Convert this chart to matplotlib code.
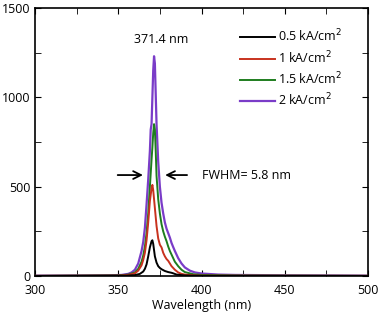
import matplotlib
matplotlib.use("Agg")
import matplotlib.pyplot as plt
from matplotlib.ticker import MultipleLocator

plt.rcParams['font.family'] = ['Open Sans', 'DejaVu Sans']

wl_purple = [300, 330, 345, 352, 356, 358, 360, 362, 364, 365, 366, 367, 368, 369, 369.5, 370, 370.5, 371, 371.5, 372, 372.5, 373, 374, 375, 376, 377, 378, 379, 380, 381, 382, 383, 384, 386, 388, 390, 393, 396, 400, 410, 420, 450, 480, 500]
int_purple = [2, 3, 4, 6, 12, 20, 35, 70, 140, 190, 270, 400, 540, 700, 820, 850, 1000, 1150, 1230, 1190, 1020, 850, 640, 500, 410, 350, 300, 265, 240, 215, 185, 162, 140, 100, 70, 48, 30, 20, 14, 8, 6, 4, 3, 2]

wl_green = [300, 350, 356, 360, 362, 364, 365, 366, 367, 368, 369, 370, 370.5, 371, 371.5, 372, 372.5, 373, 374, 375, 376, 377, 378, 379, 380, 381, 382, 384, 386, 388, 390, 395, 400, 420, 500]
int_green = [1, 3, 8, 20, 40, 80, 115, 165, 240, 350, 500, 650, 720, 800, 850, 820, 700, 560, 430, 350, 290, 250, 220, 195, 165, 140, 120, 80, 55, 35, 22, 10, 6, 3, 1]

wl_red = [300, 350, 356, 360, 362, 364, 365, 366, 367, 368, 369, 370, 370.5, 371, 372, 373, 374, 375, 376, 377, 378, 379, 380, 382, 383, 384, 386, 388, 390, 395, 400, 500]
int_red = [1, 2, 6, 15, 30, 60, 90, 130, 200, 300, 420, 490, 510, 480, 380, 280, 210, 175, 160, 130, 110, 95, 85, 55, 45, 35, 20, 12, 8, 4, 2, 1]

wl_black = [300, 355, 360, 363, 365, 366, 367, 368, 369, 370, 370.5, 371, 372, 373, 374, 375, 376, 377, 378, 380, 382, 383, 385, 390, 400, 500]
int_black = [0, 2, 5, 12, 25, 40, 65, 110, 160, 195, 200, 180, 110, 75, 55, 45, 38, 33, 28, 22, 18, 15, 8, 3, 1, 0]

labels = ['0.5 kA/cm$^2$', '1 kA/cm$^2$', '1.5 kA/cm$^2$', '2 kA/cm$^2$']
colors = ['#000000', '#c8321e', '#1e7d1e', '#7a3cc8']

fig = plt.figure(figsize=(3.78, 3.15), dpi=100)
ax = fig.add_axes([35/378, 1 - 276/315, 333/378, 268/315])

ax.plot(wl_purple, int_purple, color=colors[3], lw=1.6, label=labels[3], zorder=2)
ax.plot(wl_green, int_green, color=colors[2], lw=1.4, label=labels[2], zorder=3)
ax.plot(wl_red, int_red, color=colors[1], lw=1.4, label=labels[1], zorder=4)
ax.plot(wl_black, int_black, color=colors[0], lw=1.4, label=labels[0], zorder=5)

ax.set_xlim(300, 500)
ax.set_ylim(0, 1500)
ax.xaxis.set_major_locator(MultipleLocator(50))
ax.xaxis.set_minor_locator(MultipleLocator(25))
ax.yaxis.set_major_locator(MultipleLocator(500))
ax.yaxis.set_minor_locator(MultipleLocator(250))
ax.tick_params(which='both', direction='in', top=True, right=True, labelsize=9)
ax.tick_params(axis='x', pad=5.5)
ax.tick_params(axis='y', pad=3)
ax.tick_params(which='major', length=4)
ax.tick_params(which='minor', length=4)
for s in ax.spines.values():
    s.set_linewidth(1.2)

ax.set_xlabel('Wavelength (nm)', fontsize=9, labelpad=1.5)

handles, labs = ax.get_legend_handles_labels()
order = [3, 2, 1, 0]
ax.legend([handles[i] for i in order], [labs[i] for i in order], loc='upper left',
          bbox_to_anchor=(0.616, 0.925), frameon=False, fontsize=9, handlelength=2.8,
          handletextpad=0.25, labelspacing=0.38, borderpad=0, borderaxespad=0)

ax.text(376, 1326, '371.4 nm', ha='center', va='center', fontsize=9)
ax.annotate('', xy=(366.5, 565), xytext=(348, 565),
            arrowprops=dict(arrowstyle='->', lw=1.3, color='black', mutation_scale=14))
ax.annotate('', xy=(376.5, 565), xytext=(393, 565),
            arrowprops=dict(arrowstyle='->', lw=1.3, color='black', mutation_scale=14))
ax.text(400, 565, 'FWHM= 5.8 nm', ha='left', va='center', fontsize=9)

fig.savefig('out.png', dpi=100)
